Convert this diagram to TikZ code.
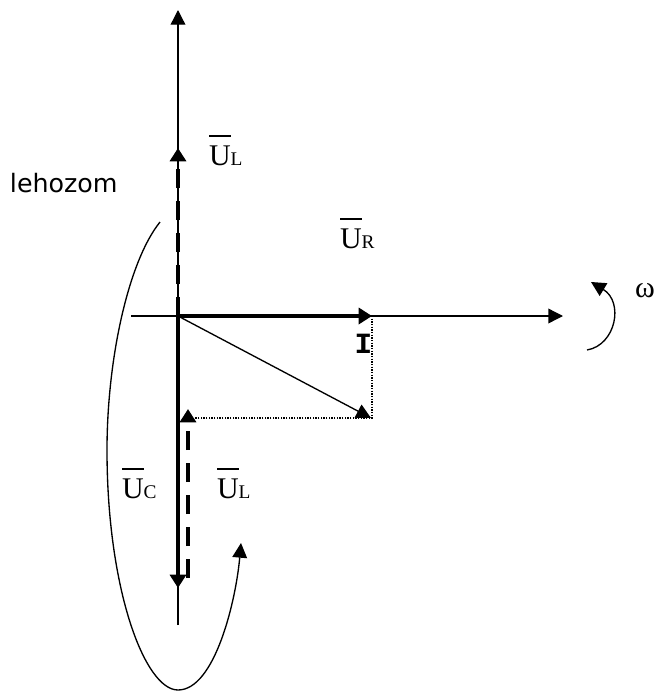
\documentclass[tikz,border=0pt]{standalone}
\usepackage{fontspec}
\setmainfont{Liberation Serif}
\setmonofont{Liberation Mono}
\newfontfamily\labelsans{DejaVu Sans}
\usetikzlibrary{arrows.meta}

\newcommand{\ovl}[1]{\leavevmode\vbox{\hrule height 1.1pt\kern 6.5pt\hbox{#1}}}
\newcommand{\phasor}[2]{\ovl{#1}{\fontsize{14.5}{16}\selectfont #2}}

\begin{document}
\begin{tikzpicture}[x=0.75pt, y=-0.75pt,
	every node/.style={inner sep=0pt, outer sep=0pt},
	lbl/.style={anchor=base west, font=\fontsize{22.5}{26}\selectfont},
	vec/.style={line width=1pt, -{Triangle[length=11pt, width=11pt]}},
	bigvec/.style={line width=3.6pt, -{Triangle[length=10pt, width=12pt]}},
	dashvec/.style={bigvec, dash pattern=on 14pt off 10pt},
	helper/.style={line width=0.8pt, dash pattern=on 1pt off 1pt}]
	\useasboundingbox (0,0) rectangle (655,693);
	% axes
	\coordinate (O) at (178,316); \coordinate (ytop) at (178,10); \coordinate (ybot) at (178,625); \coordinate (xleft) at (131,316); \coordinate (xright) at (563,316);
	\coordinate (Itip) at (372,316); \coordinate (Ztip) at (371,418); \coordinate (corner) at (372,418); \coordinate (dotend) at (195,418);
	\coordinate (ULtop) at (178,148); \coordinate (UCtip) at (178,588); \coordinate (ULbot) at (188,578); \coordinate (ULup) at (188,409);
	\draw[vec] (ybot) -- (ytop);
	\draw[vec] (xleft) -- (xright);
	% phasors
	\draw[dashvec] (O) -- (ULtop);
	\draw[bigvec] (O) -- (Itip);
	\draw[bigvec] (O) -- (UCtip);
	\draw[dashvec] (ULbot) -- (ULup);
	\draw[vec] (O) -- (Ztip);
	\draw[helper] (Itip) -- (corner) -- (dotend);
	% rotation
	\coordinate (rotS) at (160,222); \coordinate (rotL) at (107,450); \coordinate (rotB) at (178,690); \coordinate (rotE) at (241,543);
	\draw[vec] (rotS) .. controls (128,262) and (107,360) .. (rotL) .. controls (107,590) and (145,690) .. (rotB) .. controls (215,690) and (236,600) .. (rotE);
	\coordinate (omS) at (587,350); \coordinate (omE) at (591,282);
	\draw[vec] (omS) .. controls (616,345) and (624,302) .. (omE);
	% labels
	\node[lbl] (UL1) at (209,165) {\phasor{U}{L}};
	\node[lbl] (UR) at (340,248) {\phasor{U}{R}};
	\node[lbl] (UC) at (122,498) {\phasor{U}{C}};
	\node[lbl] (UL2) at (217,498) {\phasor{U}{L}};
	\node[lbl] (om) at (635,297) {ω};
	\node[anchor=base, font=\ttfamily\bfseries\fontsize{22}{24}\selectfont] (I) at (363.5,353) {I};
	\node[anchor=base west, font=\labelsans\fontsize{19}{22}\selectfont] (leh) at (10,192) {lehozom};
\end{tikzpicture}
\end{document}
